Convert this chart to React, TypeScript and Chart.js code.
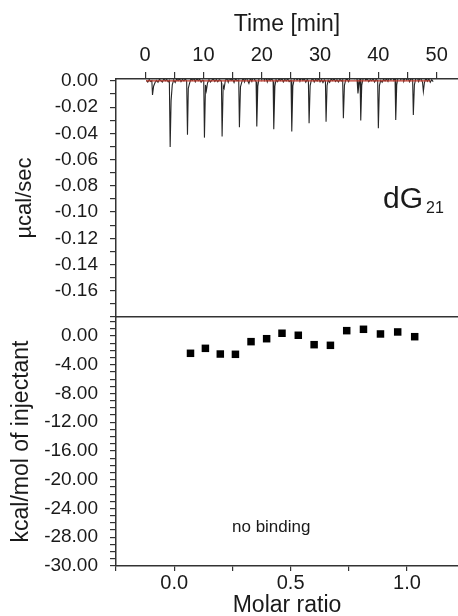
import { useEffect, useRef } from 'react';
import { Chart, registerables } from 'chart.js';

Chart.register(...registerables);

// Raw ITC thermogram: [time (min), heat flow (µcal/sec)]
const THERMOGRAM: [number, number][] = [
  [0.2, 0.0005], [0.45, -0.0008], [0.7, 0.001], [0.95, -0.0004], [1.15, 0.0002],
  [1.26, -0.0107], [1.45, -0.004], [1.7, -0.0012], [1.95, 0.0004], [2.2, -0.001], [2.45, 0.0012],
  [2.7, 0.0003], [2.95, -0.0009], [3.2, 0.0015], [3.45, 0.0002], [3.7, 0.0011], [3.95, -0.0006], [4.15, 0.0004],
  [4.29, -0.0503], [4.45, -0.015], [4.65, -0.003], [4.9, 0.0008], [5.15, -0.0012], [5.4, 0.0014], [5.65, 0.0003],
  [5.9, 0.0018], [6.15, -0.0005], [6.4, 0.0012], [6.65, 0.0001], [6.9, 0.0016], [7.12, -0.0003],
  [7.26, -0.0411], [7.4, -0.0056], [7.6, -0.002], [7.85, 0.0015], [8.1, 0.0004], [8.35, 0.0022], [8.6, -0.0006],
  [8.85, 0.0019], [9.1, 0.0002], [9.35, 0.0013], [9.6, -0.001], [9.85, 0.0006], [10.05, 0.0001],
  [10.17, -0.0432], [10.35, -0.003], [10.5, -0.0074], [10.7, -0.0015], [10.95, 0.001], [11.2, -0.0008], [11.45, 0.0006],
  [11.7, 0.0016], [11.95, -0.0004], [12.2, 0.0011], [12.45, -0.0006], [12.7, 0.0009], [12.95, 0.0003], [13.08, -0.0002],
  [13.2, -0.0424], [13.38, -0.0035], [13.55, -0.0056], [13.75, 0.0003], [14.0, 0.0021], [14.25, -0.001], [14.5, 0.0026],
  [14.75, 0.0004], [15.0, 0.0015], [15.25, -0.0012], [15.5, 0.0018], [15.75, 0.0002], [16.05, 0.0008],
  [16.17, -0.0353], [16.35, -0.0045], [16.55, -0.0012], [16.8, 0.0024], [17.05, -0.0008], [17.3, 0.0032], [17.55, 0.0006],
  [17.8, -0.0018], [18.05, 0.002], [18.3, -0.0004], [18.55, 0.0036], [18.8, 0.0008], [19.03, -0.0006],
  [19.15, -0.0348], [19.32, -0.0042], [19.5, 0.0012], [19.75, 0.0045], [20.0, 0.001], [20.2, 0.0068], [20.45, 0.0005],
  [20.7, 0.003], [20.95, -0.0008], [21.2, 0.0025], [21.45, 0.0002], [21.7, 0.0018], [21.95, -0.0004],
  [22.06, -0.0368], [22.25, -0.004], [22.45, 0.001], [22.7, -0.0006], [22.95, 0.0014], [23.2, 0.0003], [23.45, 0.002],
  [23.7, -0.0008], [23.95, 0.0012], [24.2, 0.0001], [24.45, 0.0016], [24.7, -0.0005], [25.02, 0.0006],
  [25.15, -0.0386], [25.33, -0.0038], [25.55, 0.0008], [25.8, 0.0042], [26.05, 0.0006], [26.3, 0.0035], [26.55, -0.0002],
  [26.8, 0.0028], [27.05, 0.0004], [27.3, 0.0016], [27.55, -0.001], [27.8, 0.0012], [28.0, -0.0003],
  [28.12, -0.0322], [28.3, -0.0035], [28.5, 0.0005], [28.75, 0.0018], [29.0, -0.0008], [29.25, 0.0012], [29.5, 0.0],
  [29.75, 0.002], [30.0, -0.0006], [30.25, 0.001], [30.5, -0.0012], [30.75, 0.0008], [30.92, -0.0002],
  [31.03, -0.031], [31.2, -0.0036], [31.4, 0.0006], [31.65, -0.001], [31.9, 0.0014], [32.15, 0.0002], [32.4, 0.0018],
  [32.65, -0.0004], [32.9, 0.001], [33.15, -0.0008], [33.4, 0.0012], [33.65, 0.0], [33.88, 0.0009],
  [34.0, -0.0284], [34.18, -0.0034], [34.4, 0.0008], [34.65, 0.0015], [34.9, -0.0006], [35.15, 0.0024], [35.4, 0.004],
  [35.65, 0.006], [35.9, 0.0022], [36.15, 0.0052], [36.35, 0.001], [36.5, -0.0095], [36.7, -0.0015], [36.86, 0.002],
  [36.98, -0.0302], [37.15, -0.0032], [37.35, 0.0012], [37.6, 0.0035], [37.85, 0.0005], [38.1, 0.0016], [38.35, -0.0006],
  [38.6, 0.001], [38.85, 0.0002], [39.1, 0.0015], [39.35, -0.0008], [39.6, 0.0011], [39.88, 0.0003],
  [40.0, -0.036], [40.18, -0.0036], [40.4, 0.0004], [40.65, -0.001], [40.9, 0.0012], [41.15, 0.0001], [41.4, 0.0016],
  [41.65, -0.0004], [41.9, 0.003], [42.15, 0.0008], [42.4, 0.004], [42.65, 0.0006], [42.86, 0.0028],
  [42.98, -0.0297], [43.15, -0.003], [43.35, 0.002], [43.6, 0.0045], [43.85, 0.001], [44.1, 0.0038], [44.35, -0.0004],
  [44.6, 0.003], [44.85, 0.0008], [45.1, 0.0024], [45.35, -0.0006], [45.6, 0.0018], [45.88, 0.001],
  [46.0, -0.0259], [46.18, -0.003], [46.4, 0.0014], [46.65, 0.0032], [46.9, -0.0004], [47.15, 0.0025], [47.4, 0.0008],
  [47.58, -0.001], [47.72, -0.008], [47.9, -0.0012], [48.15, 0.0022], [48.4, -0.0002], [48.65, 0.0016], [48.9, -0.001],
  [49.15, 0.001], [49.4, -0.0005],
];

// Baseline under the thermogram
const BASELINE_TIME = [0.17, 48.9];
const BASELINE_POWER = [0, 0];

// Integrated heat per injection
const MOLAR_RATIO = [0.07, 0.134, 0.198, 0.263, 0.33, 0.397, 0.463, 0.533, 0.601, 0.671, 0.741, 0.813, 0.886, 0.96, 1.033];
const HEAT_PER_INJECTION = [-2.41, -1.72, -2.51, -2.55, -0.79, -0.38, 0.38, 0.1, -1.21, -1.3, 0.74, 0.93, 0.28, 0.56, -0.1];

// Axis ticks
const TIME_MAJOR = [0, 10, 20, 30, 40, 50];
const TIME_MINOR = [5, 15, 25, 35, 45];
const POWER_MAJOR = [0, -0.02, -0.04, -0.06, -0.08, -0.1, -0.12, -0.14, -0.16];
const POWER_MINOR = [-0.01, -0.03, -0.05, -0.07, -0.09, -0.11, -0.13, -0.15, -0.17, -0.18];
const RATIO_MAJOR = [0, 0.5, 1.0];
const RATIO_MINOR = [-0.25, 0.25, 0.75];
const HEAT_MAJOR = [0, -4, -8, -12, -16, -20, -24, -28];
const HEAT_MINOR = [2, 1, -1, -2, -3, -5, -6, -7, -9, -10, -11, -13, -14, -15, -17, -18, -19, -21, -22, -23, -25, -26, -27, -29, -30, -31];
const HEAT_FLOOR = -32;
const HEAT_FLOOR_LABEL = '-30.00';

const FONT = 'Liberation Sans, Arial, Helvetica, sans-serif';
const INK = '#1a1a1a';
const AXIS = '#333333';

const tickList = (values: number[]) => (axis: any) => {
  axis.ticks = values.map((value) => ({ value }));
};

// Fix an axis box to an exact size and drop the edge padding Chart.js adds for overhanging labels
const fixedSize = (key: 'width' | 'height', size: number) => (s: any) => {
  s[key] = size;
  s.paddingTop = 0;
  s.paddingBottom = 0;
  s.paddingLeft = 0;
  s.paddingRight = 0;
};

const axisLines = (tickLength: number) => ({
  grid: { display: true, drawOnChartArea: false, drawTicks: true, tickLength, color: AXIS, lineWidth: 1.2 },
  border: { display: true, color: AXIS, width: 1.5 },
});

const textPlugin = (id: string, draw: (ctx: CanvasRenderingContext2D) => void) => ({
  id,
  afterDraw(chart: Chart) {
    const ctx = chart.ctx;
    ctx.save();
    ctx.fillStyle = INK;
    ctx.textBaseline = 'alphabetic';
    ctx.textAlign = 'left';
    draw(ctx);
    ctx.restore();
  },
});

export default function App() {
  const topRef = useRef<HTMLCanvasElement>(null);
  const bottomRef = useRef<HTMLCanvasElement>(null);

  useEffect(() => {
    Chart.defaults.font.family = FONT;
    Chart.defaults.color = INK;

    const thermogram = new Chart(topRef.current!, {
      type: 'scatter',
      data: {
        datasets: [
          {
            data: BASELINE_TIME.map((x, i) => ({ x, y: BASELINE_POWER[i] })),
            xAxisID: 'x',
            yAxisID: 'y',
            showLine: true,
            borderColor: '#c0392b',
            borderWidth: 1.2,
            pointRadius: 0,
          },
          {
            data: THERMOGRAM.map(([x, y]) => ({ x, y })),
            xAxisID: 'x',
            yAxisID: 'y',
            showLine: true,
            borderColor: '#262626',
            borderWidth: 1.1,
            pointRadius: 0,
          },
        ],
      },
      options: {
        responsive: false,
        animation: false,
        devicePixelRatio: 1,
        events: [],
        layout: { autoPadding: false, padding: { top: 0, left: 0, right: 0, bottom: 3 } },
        plugins: { legend: { display: false }, tooltip: { enabled: false } },
        scales: {
          x: {
            type: 'linear',
            position: 'top',
            min: -5,
            max: 53.66,
            afterBuildTicks: tickList([...TIME_MAJOR, ...TIME_MINOR].sort((a, b) => a - b)),
            afterFit: fixedSize('height', 79),
            ...axisLines(7),
            ticks: {
              autoSkip: false,
              maxRotation: 0,
              padding: 7,
              font: { size: 20, lineHeight: 1 },
              callback: (v: any) => (TIME_MAJOR.includes(v) ? String(v) : ''),
            },
            title: {
              display: true,
              text: 'Time [min]',
              font: { size: 23, lineHeight: 1 },
              padding: { top: 13.5, bottom: 0 },
            },
          },
          y: {
            type: 'linear',
            min: -0.18,
            max: 0.0015,
            afterBuildTicks: tickList([...POWER_MAJOR, ...POWER_MINOR].sort((a, b) => b - a)),
            afterFit: fixedSize('width', 116),
            ...axisLines(6),
            ticks: {
              autoSkip: false,
              padding: 12,
              font: { size: 19, lineHeight: 1 },
              callback: (v: any) => (POWER_MAJOR.includes(v) ? Number(v).toFixed(2) : ''),
            },
            title: {
              display: true,
              text: 'µcal/sec',
              font: { size: 22, lineHeight: 1 },
              padding: { top: 14, bottom: 0 },
            },
          },
        },
      },
      plugins: [
        textPlugin('sampleName', (ctx) => {
          ctx.font = `30px ${FONT}`;
          ctx.fillText('dG', 383, 208);
          ctx.font = `16px ${FONT}`;
          ctx.fillText('21', 426, 213);
        }),
      ],
    } as any);

    const isotherm = new Chart(bottomRef.current!, {
      type: 'scatter',
      data: {
        datasets: [
          {
            data: MOLAR_RATIO.map((x, i) => ({ x, y: HEAT_PER_INJECTION[i] })),
            xAxisID: 'x',
            yAxisID: 'y',
            pointStyle: 'rect',
            pointRadius: 5.3,
            backgroundColor: '#000000',
            borderColor: '#000000',
            borderWidth: 0,
          },
        ],
      },
      options: {
        responsive: false,
        animation: false,
        devicePixelRatio: 1,
        events: [],
        layout: { autoPadding: false, padding: 0 },
        plugins: { legend: { display: false }, tooltip: { enabled: false } },
        scales: {
          x: {
            type: 'linear',
            position: 'bottom',
            min: -0.25,
            max: 1.219,
            afterBuildTicks: tickList([...RATIO_MAJOR, ...RATIO_MINOR].sort((a, b) => a - b)),
            afterFit: fixedSize('height', 50),
            ...axisLines(5),
            ticks: {
              autoSkip: false,
              maxRotation: 0,
              padding: 2,
              font: { size: 20, lineHeight: 1 },
              callback: (v: any) => (RATIO_MAJOR.includes(v) ? Number(v).toFixed(1) : ''),
            },
            title: {
              display: true,
              text: 'Molar ratio',
              font: { size: 23, lineHeight: 0.87 },
              padding: { top: 0, bottom: 0 },
            },
          },
          frame: {
            type: 'linear',
            axis: 'x',
            position: 'top',
            display: true,
            min: 0,
            max: 1,
            afterFit: fixedSize('height', 17),
            grid: { display: false },
            ticks: { display: false },
            border: { display: true, color: AXIS, width: 1.5 },
          },
          y: {
            type: 'linear',
            min: HEAT_FLOOR,
            max: 2.64,
            afterBuildTicks: tickList([...HEAT_MAJOR, ...HEAT_MINOR, HEAT_FLOOR].sort((a, b) => b - a)),
            afterFit: fixedSize('width', 116),
            ...axisLines(6),
            ticks: {
              autoSkip: false,
              padding: 12,
              font: { size: 19, lineHeight: 1 },
              callback: (v: any) =>
                v === HEAT_FLOOR ? HEAT_FLOOR_LABEL : HEAT_MAJOR.includes(v) ? Number(v).toFixed(2) : '',
            },
            title: {
              display: true,
              text: 'kcal/mol of injectant',
              font: { size: 23, lineHeight: 1 },
              padding: { top: 10.5, bottom: 0 },
            },
          },
        },
      },
      plugins: [
        textPlugin('bindingNote', (ctx) => {
          ctx.font = `17px ${FONT}`;
          ctx.fillText('no binding', 232, 232);
        }),
      ],
    } as any);

    return () => {
      thermogram.destroy();
      isotherm.destroy();
    };
  }, []);

  return (
    <div style={{ position: 'fixed', left: 0, top: 0, width: 458, height: 616, background: '#ffffff', overflow: 'hidden' }}>
      <canvas ref={topRef} width={458} height={320} style={{ position: 'absolute', left: 0, top: 0 }} />
      <canvas ref={bottomRef} width={458} height={316} style={{ position: 'absolute', left: 0, top: 300 }} />
    </div>
  );
}
